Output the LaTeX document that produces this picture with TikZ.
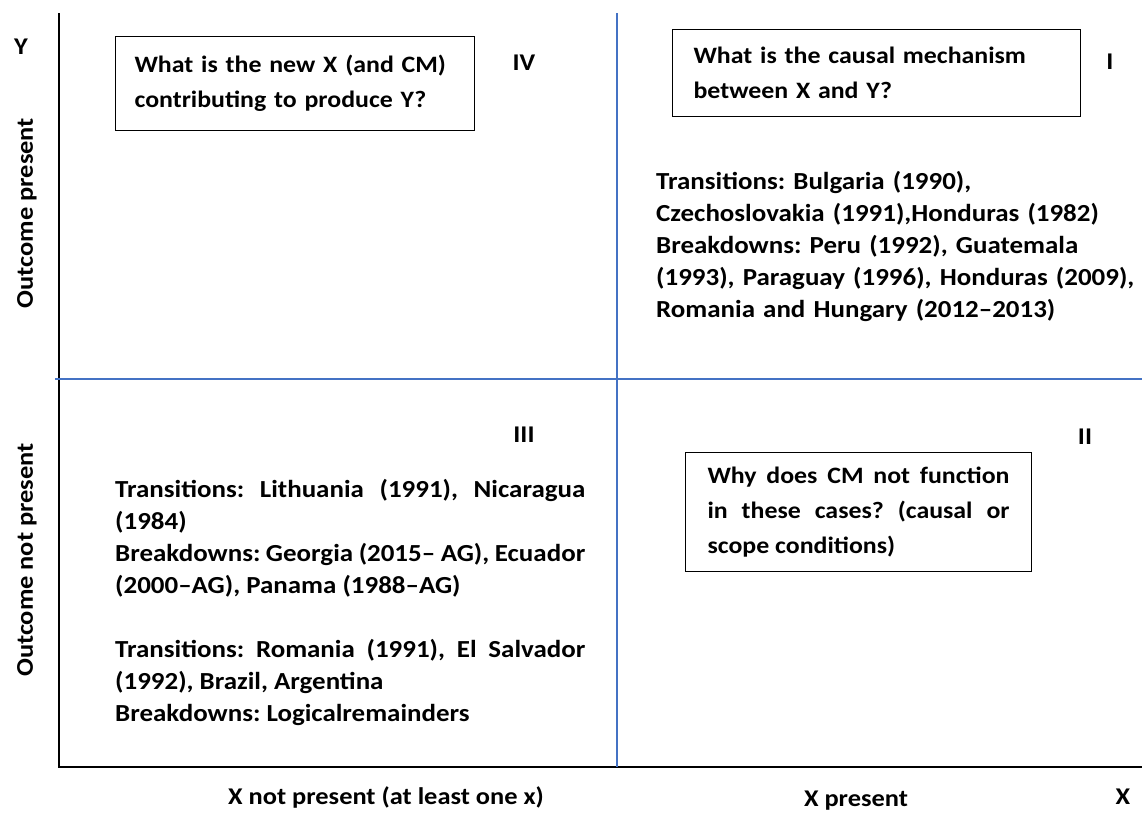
\documentclass[tikz,border=0pt]{standalone}
\usepackage{fontspec}
\setmainfont{Carlito}[FakeStretch=1.1]
\frenchspacing
\definecolor{qblue}{RGB}{68,114,196}
\begin{document}
\begin{tikzpicture}[x=1pt,y=-1pt,
  txt/.style={font=\bfseries\fontsize{24.5}{32.1}\selectfont, inner sep=0pt, anchor=base west},
  qbox/.style={draw, line width=1.1pt, font=\bfseries\fontsize{23.5}{35.3}\selectfont, inner ysep=0pt, anchor=north west},
  lab/.style={font=\bfseries\fontsize{24}{28}\selectfont, inner sep=0pt},
  axis/.style={line width=1.8pt},
  divider/.style={qblue, line width=1.6pt}]
\useasboundingbox (0,0) rectangle (1142,812);
% axes and dividers
\coordinate (vtop) at (59,13);
\coordinate (origin) at (59,767);
\coordinate (hright) at (1142,767);
\coordinate (bl) at (55,379);
\coordinate (br) at (1142,379);
\coordinate (mt) at (617,13);
\coordinate (mb) at (617,767);
\draw[axis] (vtop) -- (origin) -- (hright);
\draw[divider] (bl) -- (br);
\draw[divider] (mt) -- (mb);
% axis labels
\node[lab] (ylab) at (21,47) {Y};
\node[lab, rotate=90] (op) at (27,213) {Outcome present};
\node[lab, rotate=90] (onp) at (27,560) {Outcome not present};
\node[lab] (xnp) at (386,797) {X not present (at least one x)};
\node[lab] (xp) at (856,801) {X present};
\node[lab] (xlab) at (1123,797) {X};
% quadrant numerals
\node[lab] (q4n) at (524,63) {IV};
\node[lab] (q1n) at (1110,62) {I};
\node[lab] (q3n) at (524,435) {III};
\node[lab] (q2n) at (1085,437) {II};
% question boxes
\node[qbox, inner xsep=19pt, text width=321pt, minimum height=94pt, align=left] (box4) at (115,36)
  {What is the new X (and CM)\\contributing to produce Y?};
\node[qbox, inner xsep=21pt, text width=366pt, minimum height=87pt, align=left] (box1) at (672,29)
  {What is the causal mechanism\\between X and Y?};
\node[qbox, inner xsep=22pt, text width=302pt, minimum height=119pt, align=justify] (box2) at (685,452)
  {Why does CM not function\linebreak in these cases? (causal or\linebreak scope conditions)};
% case texts
\node[txt, text width=480pt, align=left] (cases1) at (656,189)
  {Transitions: Bulgaria (1990),\\Czechoslovakia (1991),Honduras (1982)\\Breakdowns: Peru (1992), Guatemala\\(1993), Paraguay (1996), Honduras (2009),\\Romania and Hungary (2012--2013)};
\node[txt, text width=470pt, align=justify] (cases3) at (115,497)
  {Transitions: Lithuania (1991), Nicaragua\linebreak (1984)\\
   Breakdowns: Georgia (2015-- AG), Ecuador\linebreak (2000--AG), Panama (1988--AG)\\[32.1pt]
   Transitions: Romania (1991), El Salvador\linebreak (1992), Brazil, Argentina\\
   Breakdowns: Logicalremainders};
\end{tikzpicture}
\end{document}
